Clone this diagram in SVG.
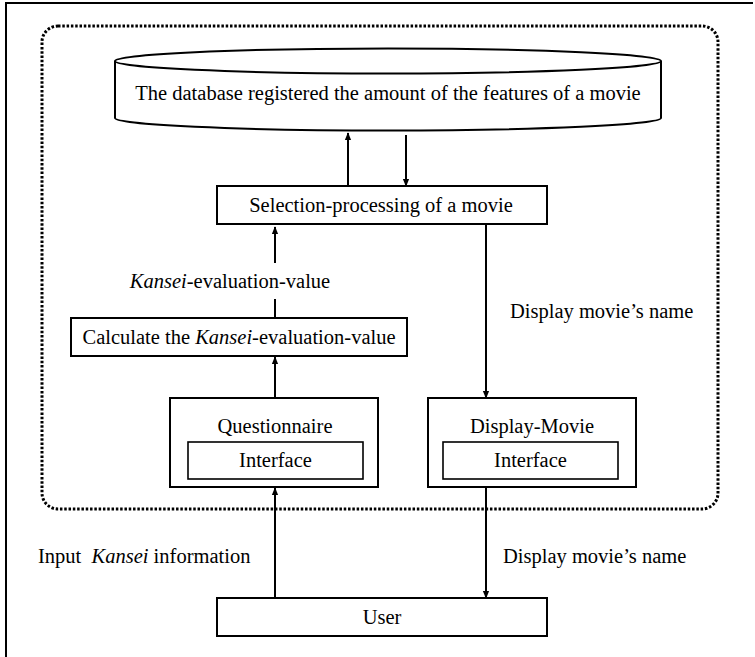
<svg xmlns="http://www.w3.org/2000/svg" width="755" height="657" viewBox="0 0 755 657">
<defs>
<style>
.t{font-family:"Liberation Serif","Times New Roman",serif;font-size:20.5px;fill:#000}
.c{text-anchor:middle}
.box{fill:#fff;stroke:#000;stroke-width:2}
.ib{fill:#fff;stroke:#000;stroke-width:1.6}
.ln{stroke:#000;stroke-width:2;fill:none}
</style>
<marker id="ah" viewBox="0 0 10 10" refX="9" refY="5" markerWidth="4" markerHeight="4" orient="auto" markerUnits="strokeWidth">
<path d="M0,1 L10,5 L0,9 Z" fill="#000"/>
</marker>
</defs>
<rect width="755" height="657" fill="#fff"/>
<path d="M753,3 H6 V657" fill="none" stroke="#000" stroke-width="2"/>
<rect x="42" y="26" width="676" height="483" rx="16" ry="16" fill="none" stroke="#000" stroke-width="3" stroke-dasharray="2.5 1.8"/>

<g id="database">
<path d="M115,61 V118 A273,12.5 0 0 0 661,118 V61" class="box"/>
<ellipse cx="388" cy="61" rx="273" ry="12.5" class="box"/>
<text x="388" y="100" class="t c">The database registered the amount of the features of a movie</text>
</g>

<g id="selection">
<rect x="217" y="186" width="330" height="38" class="box"/>
<text x="381" y="212" class="t c">Selection-processing of a movie</text>
</g>

<g id="calculate">
<rect x="71" y="318" width="336" height="38" class="box"/>
<text x="239" y="344" class="t c">Calculate the <tspan font-style="italic">Kansei</tspan>-evaluation-value</text>
</g>

<g id="questionnaire">
<rect x="170" y="398" width="208" height="89" class="box"/>
<text x="275" y="433" class="t c">Questionnaire</text>
<rect x="188" y="442" width="175" height="37" class="ib"/>
<text x="275.5" y="467" class="t c">Interface</text>
</g>

<g id="display-movie">
<rect x="428" y="398" width="208" height="89" class="box"/>
<text x="532" y="433" class="t c">Display-Movie</text>
<rect x="443" y="442" width="175" height="37" class="ib"/>
<text x="530.5" y="467" class="t c">Interface</text>
</g>

<g id="user">
<rect x="217" y="598" width="330" height="38" class="box"/>
<text x="382" y="624" class="t c">User</text>
</g>

<g id="connectors">
<line x1="348" y1="186" x2="348" y2="133" class="ln" marker-end="url(#ah)"/>
<line x1="406" y1="135" x2="406" y2="186" class="ln" marker-end="url(#ah)"/>
<line x1="486" y1="224" x2="486" y2="398" class="ln" marker-end="url(#ah)"/>
<line x1="275" y1="299" x2="275" y2="318" class="ln"/>
<line x1="275" y1="263" x2="275" y2="227" class="ln" marker-end="url(#ah)"/>
<line x1="275" y1="398" x2="275" y2="357" class="ln" marker-end="url(#ah)"/>
<line x1="275" y1="598" x2="275" y2="488" class="ln" marker-end="url(#ah)"/>
<line x1="486" y1="487" x2="486" y2="598" class="ln" marker-end="url(#ah)"/>
</g>

<g id="labels">
<text x="230" y="288" class="t c"><tspan font-style="italic">Kansei</tspan>-evaluation-value</text>
<text x="510" y="318" class="t">Display movie’s name</text>
<text x="38" y="563" class="t">Input&#160; <tspan font-style="italic">Kansei</tspan> information</text>
<text x="503" y="563" class="t">Display movie’s name</text>
</g>
</svg>
